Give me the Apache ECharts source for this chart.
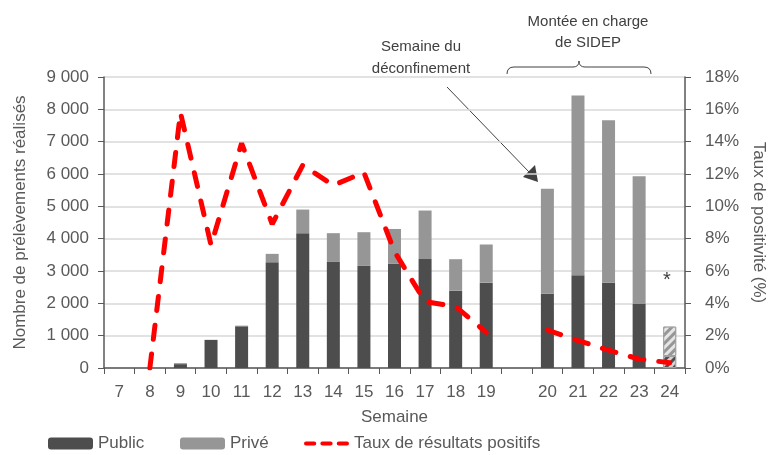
<!DOCTYPE html>
<html>
<head>
<meta charset="utf-8">
<script src="https://cdn.jsdelivr.net/npm/echarts@6/dist/echarts.min.js"></script>
<style>
html, body { margin: 0; padding: 0; background: #fff; }
#main { width: 771px; height: 455px; }
</style>
</head>
<body>
<div id="main"></div>
<script>
// semaines (une case vide entre 19 et 20)
var semaines = ['7','8','9','10','11','12','13','14','15','16','17','18','19','','20','21','22','23','24'];
var publicVals = [0, 0, 120, 870, 1290, 3270, 4170, 3280, 3160, 3220, 3370, 2390, 2640, null, 2300, 2870, 2640, 1980, 370];
var priveVals  = [0, 0, 30, 0, 20, 260, 730, 890, 1040, 1080, 1500, 975, 1180, null, 3240, 5560, 5020, 3950, 910];
var tauxVals   = [null, 0, 15.8, 7.6, 13.9, 8.9, 12.55, 11.3, 12.1, 7.2, 4.1, 3.8, 2.2, null, 2.35, 1.7, 1.1, 0.55, 0.33];

var font = '"Liberation Sans Narrow", "Arial Narrow", "Liberation Sans", sans-serif';
var txt = '#595959';

var hatch = {
    symbol: 'rect',
    dashArrayX: [1, 0],
    dashArrayY: [3, 3],
    rotation: -Math.PI / 4,
    color: 'rgba(255,255,255,0.75)'
};

function withHatch(arr){
    return arr.map(function(v, i){
        if (i == arr.length - 1)
            return {value: v, itemStyle: {decal: hatch, borderColor: '#a0a0a0', borderWidth: 1}};
        return v;
    });
}

var chart = echarts.init(document.getElementById('main'));

var ln = {stroke: '#404040', lineWidth: 1, fill: null};
var legText = {fontFamily: font, fontSize: 17, color: txt};
var dashIcon = 'path://M2,0h8a2,2 0 0 1 0,4h-8a2,2 0 0 1 0,-4z M18,0h8a2,2 0 0 1 0,4h-8a2,2 0 0 1 0,-4z M34,0h8a2,2 0 0 1 0,4h-8a2,2 0 0 1 0,-4z';

var option = {
    animation: false,
    textStyle: {fontFamily: font, color: txt},
    grid: {left: 104, right: 86, top: 77, bottom: 87, outerBoundsMode: 'none', containLabel: false},
    legend: [
        {data: ['Public'], left: 48, top: 435, padding: 0, itemWidth: 45, itemHeight: 12, textStyle: legText},
        {data: ['Privé'], left: 180, top: 435, padding: 0, itemWidth: 45, itemHeight: 12, textStyle: legText},
        {data: [{name: 'Taux de résultats positifs', icon: dashIcon}], left: 304, top: 435, padding: 0,
         itemWidth: 45, itemHeight: 5, textStyle: legText, itemStyle: {color: '#ff0000'}}
    ],
    xAxis: {
        type: 'category',
        data: semaines,
        name: 'Semaine',
        nameLocation: 'middle',
        nameGap: 41,
        nameTextStyle: {fontFamily: font, fontSize: 17, color: txt},
        axisLine: {lineStyle: {color: '#595959', width: 1.5}},
        axisTick: {show: true, interval: 0, length: 6, lineStyle: {color: '#595959'}},
        axisLabel: {interval: 0, fontFamily: font, fontSize: 17, color: txt, margin: 16}
    },
    yAxis: [
        {
            type: 'value', min: 0, max: 9000, interval: 1000,
            name: 'Nombre de prélèvements réalisés',
            nameLocation: 'middle',
            nameGap: 75,
            nameTextStyle: {fontFamily: font, fontSize: 17, color: txt},
            axisLine: {show: true, lineStyle: {color: '#595959', width: 1.5}},
            axisTick: {show: true, length: 6, lineStyle: {color: '#595959'}},
            axisLabel: {
                fontFamily: font, fontSize: 17, color: txt, margin: 15,
                formatter: function(v){ return v >= 1000 ? Math.floor(v/1000) + ' 000' : '' + v; }
            },
            splitLine: {lineStyle: {color: '#d9d9d9', width: 1.5}}
        },
        {
            type: 'value', min: 0, max: 18, interval: 2,
            name: 'Taux de positivité (%)',
            nameLocation: 'middle',
            nameGap: 62,
            nameRotate: -90,
            nameTextStyle: {fontFamily: font, fontSize: 17, color: txt},
            axisLine: {show: true, lineStyle: {color: '#595959', width: 1.5}},
            axisTick: {show: true, length: 6, lineStyle: {color: '#595959'}},
            axisLabel: {fontFamily: font, fontSize: 17, color: txt, margin: 20, formatter: '{value}%'},
            splitLine: {show: false}
        }
    ],
    series: [
        {
            name: 'Public', type: 'bar', stack: 'tot', barWidth: 13,
            itemStyle: {color: '#4d4d4d'},
            data: withHatch(publicVals)
        },
        {
            name: 'Privé', type: 'bar', stack: 'tot', barWidth: 13,
            itemStyle: {color: '#969696'},
            data: withHatch(priveVals)
        },
        {
            name: 'Taux de résultats positifs', type: 'line', yAxisIndex: 1,
            symbol: 'none', connectNulls: false, z: 5,
            lineStyle: {color: '#ff0000', width: 5, type: [14, 15], cap: 'round'},
            itemStyle: {color: '#ff0000'},
            data: tauxVals
        }
    ],
    graphic: [
        {type: 'text', x: 421, y: 36, style: {text: 'Semaine du\ndéconfinement', font: '15px ' + font, fill: '#404040', align: 'center', lineHeight: 22}},
        {type: 'text', x: 588, y: 11, style: {text: 'Montée en charge\nde SIDEP', font: '15px ' + font, fill: '#404040', align: 'center', lineHeight: 21}},
        {type: 'line', shape: {x1: 447, y1: 87, x2: 530, y2: 173}, style: ln},
        {type: 'polygon', shape: {points: [[538, 182], [523, 177], [535, 165]]}, style: {fill: '#404040'}},
        // accolade
        {type: 'bezierCurve', shape: {x1: 507, y1: 74, cpx1: 507, cpy1: 67, x2: 514, y2: 67}, style: ln},
        {type: 'line', shape: {x1: 514, y1: 67, x2: 573, y2: 67}, style: ln},
        {type: 'bezierCurve', shape: {x1: 573, y1: 67, cpx1: 579, cpy1: 67, x2: 579, y2: 61}, style: ln},
        {type: 'bezierCurve', shape: {x1: 579, y1: 61, cpx1: 579, cpy1: 67, x2: 585, y2: 67}, style: ln},
        {type: 'line', shape: {x1: 585, y1: 67, x2: 644, y2: 67}, style: ln},
        {type: 'bezierCurve', shape: {x1: 644, y1: 67, cpx1: 651, cpy1: 67, x2: 651, y2: 74}, style: ln},
        {type: 'text', x: 663, y: 270, style: {text: '*', font: '20px ' + font, fill: '#404040'}}
    ]
};

chart.setOption(option);
</script>
</body>
</html>
